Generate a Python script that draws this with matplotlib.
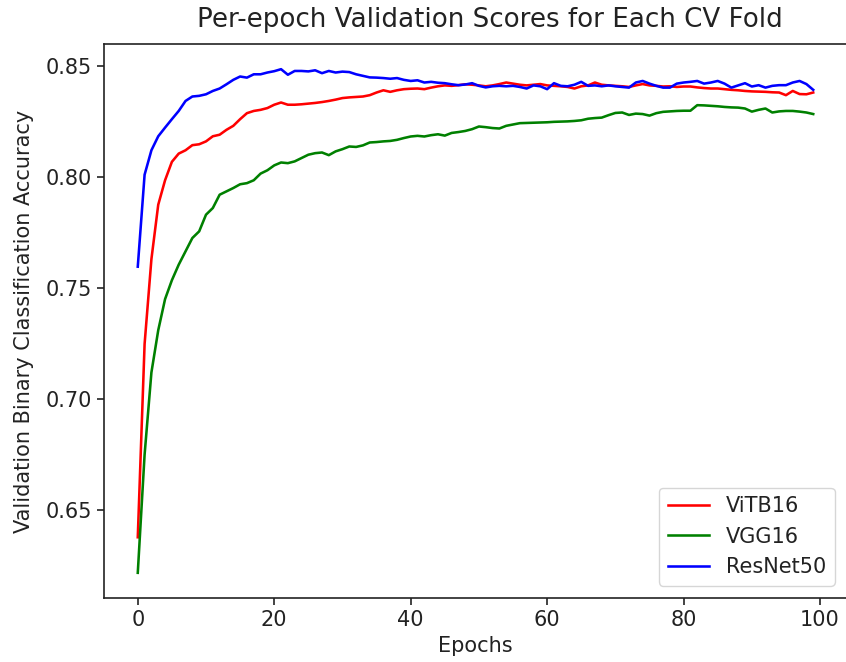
import matplotlib
matplotlib.use("Agg")
import matplotlib.pyplot as plt
import numpy as np

epochs = list(range(100))

vitb16 = [0.6378, 0.7248, 0.763, 0.7875, 0.7985, 0.8068, 0.8105, 0.812, 0.8143, 0.8147,
          0.816, 0.8183, 0.819, 0.8212, 0.823, 0.826, 0.8287, 0.8297, 0.8302, 0.831,
          0.8325, 0.8335, 0.8325, 0.8325, 0.8327, 0.833, 0.8333, 0.8337, 0.8342, 0.8348,
          0.8355, 0.8358, 0.836, 0.8362, 0.8368, 0.838, 0.839, 0.8383, 0.839, 0.8395,
          0.8397, 0.8398, 0.8395, 0.8402, 0.8408, 0.8412, 0.841, 0.8413, 0.8417, 0.8415,
          0.8412, 0.8408, 0.8412, 0.8418, 0.8425, 0.842, 0.8415, 0.8412, 0.8415, 0.8418,
          0.8412, 0.841, 0.8408, 0.8405, 0.8398, 0.8408, 0.8412, 0.8425, 0.8415, 0.8412,
          0.841, 0.8408, 0.8405, 0.8412, 0.8418, 0.8412, 0.841, 0.8407, 0.8408, 0.8405,
          0.8407, 0.8407, 0.8403, 0.84, 0.8398, 0.8398, 0.8395, 0.8392, 0.839, 0.8387,
          0.8385, 0.8384, 0.8383, 0.8381, 0.838, 0.8368, 0.8387, 0.8373, 0.8372, 0.838]

vgg16 = [0.6218, 0.675, 0.712, 0.731, 0.745, 0.7535, 0.7605, 0.7665, 0.7725, 0.7755,
         0.783, 0.786, 0.792, 0.7935, 0.795, 0.7967, 0.7972, 0.7985, 0.8015, 0.803,
         0.8052, 0.8065, 0.8062, 0.807, 0.8085, 0.81, 0.8107, 0.811, 0.8098, 0.8115,
         0.8125, 0.8137, 0.8135, 0.8142, 0.8155, 0.8157, 0.816, 0.8162, 0.8167, 0.8175,
         0.8182, 0.8185, 0.8182, 0.8188, 0.8192, 0.8186, 0.8198, 0.8202, 0.8207, 0.8215,
         0.8227, 0.8224, 0.822, 0.8218, 0.823, 0.8236, 0.8242, 0.8243, 0.8244, 0.8245,
         0.8246, 0.8248, 0.8249, 0.825, 0.8252, 0.8255, 0.8262, 0.8265, 0.8267, 0.8278,
         0.8288, 0.829, 0.8279, 0.8285, 0.8283, 0.8276, 0.8287, 0.8293, 0.8295, 0.8297,
         0.8298, 0.8298, 0.8323, 0.8322, 0.832, 0.8318, 0.8315, 0.8313, 0.8312, 0.8308,
         0.8294, 0.8302, 0.8308, 0.829, 0.8295, 0.8297, 0.8297, 0.8294, 0.829, 0.8283]

resnet50 = [0.7596, 0.801, 0.812, 0.8183, 0.8222, 0.826, 0.8297, 0.8342, 0.8362, 0.8365,
            0.8372, 0.8387, 0.8398, 0.8417, 0.8437, 0.8452, 0.8447, 0.8462, 0.8462, 0.847,
            0.8476, 0.8485, 0.846, 0.8477, 0.8477, 0.8475, 0.848, 0.8467, 0.8477, 0.847,
            0.8474, 0.8472, 0.8462, 0.8455, 0.8448, 0.8447, 0.8445, 0.8442, 0.8445, 0.8437,
            0.8432, 0.8435, 0.8425, 0.8428, 0.8424, 0.8422, 0.8417, 0.8413, 0.8416, 0.8422,
            0.841, 0.8403, 0.8408, 0.841, 0.8408, 0.841, 0.8405, 0.8398, 0.8412, 0.8408,
            0.8395, 0.8422, 0.841, 0.8408, 0.8415, 0.8428, 0.841, 0.8412, 0.8408, 0.8412,
            0.8408, 0.8405, 0.8402, 0.8425, 0.8432, 0.842, 0.841, 0.8402, 0.8402, 0.842,
            0.8425, 0.8428, 0.8432, 0.842, 0.8425, 0.8432, 0.842, 0.8402, 0.8412, 0.8422,
            0.8407, 0.8413, 0.8402, 0.841, 0.8413, 0.8413, 0.8425, 0.8432, 0.8418, 0.8392]

series_names = ["ViTB16", "VGG16", "ResNet50"]
series_colors = ["red", "green", "blue"]

S = 1.5
plt.rcParams.update({
    "font.family": "DejaVu Sans",
    "font.size": 10 * S,
    "axes.linewidth": 0.8 * S,
    "axes.edgecolor": "#222222",
    "xtick.major.width": 0.8 * S,
    "ytick.major.width": 0.8 * S,
    "xtick.major.size": 3.5 * S,
    "ytick.major.size": 3.5 * S,
    "text.color": "#222222",
    "xtick.color": "#222222",
    "ytick.color": "#222222",
    "axes.labelcolor": "#222222",
})

fig = plt.figure(figsize=(8.46, 6.62), dpi=100)
ax = fig.add_axes([104 / 846, 64 / 662, 743 / 846, 554 / 662])

for name, vals, col in zip(series_names, [vitb16, vgg16, resnet50], series_colors):
    ax.plot(epochs, vals, color=col, lw=1.85, label=name)

ax.set_title("Per-epoch Validation Scores for Each CV Fold", fontsize=12 * 1.57,
             x=0.52, pad=12)
ax.set_xlabel("Epochs", fontsize=10 * S, labelpad=4)
ax.set_ylabel("Validation Binary Classification Accuracy", fontsize=10 * S, labelpad=8)
ax.set_xticks([0, 20, 40, 60, 80, 100])
ax.set_yticks([0.65, 0.70, 0.75, 0.80, 0.85])
ax.tick_params(labelsize=10 * S)
ax.legend(loc="lower right", fontsize=10 * S, borderaxespad=0.6)

fig.savefig("out.png", dpi=100)
